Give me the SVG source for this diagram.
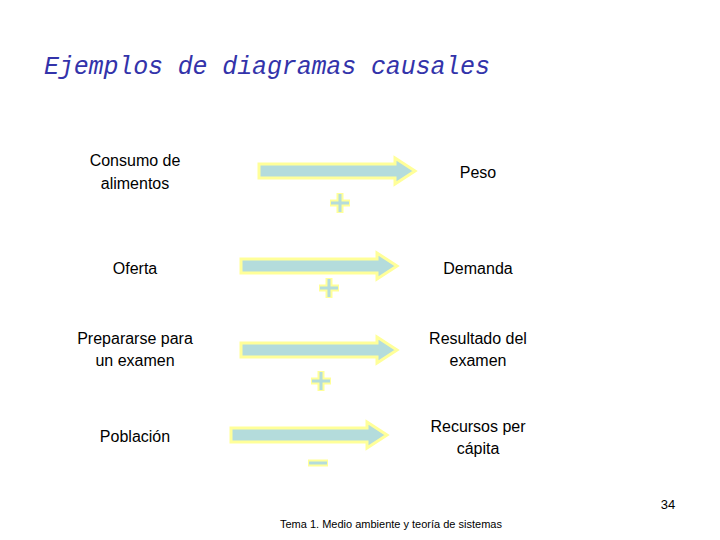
<svg xmlns="http://www.w3.org/2000/svg" width="720" height="540" viewBox="0 0 720 540">
<style>
.t{font-family:"Liberation Sans",Arial,sans-serif;font-size:16px;fill:#000;text-anchor:middle}
.ttl{font-family:"Liberation Mono","DejaVu Sans Mono",monospace;font-size:25px;fill:#3333aa;font-style:italic}
.ar{fill:#b4dcdc;stroke:#ffff99;stroke-width:3;stroke-linejoin:miter}
.sg{stroke:#ffff99;stroke-width:7;fill:none}
.sgi{stroke:#b4dcdc;stroke-width:3;fill:none}
.f{font-family:"Liberation Sans",Arial,sans-serif;font-size:11px;fill:#000}
</style>
<defs>
<path id="arr" class="ar" d="M0,-7 H136 V-13 L156,0 L136,13 V7 H0 Z"/>
<g id="plus"><path class="sg" d="M-10,0 H10 M0,-10 V10"/><path class="sgi" d="M-9,0 H9 M0,-9 V9"/></g>
</defs>
<rect width="720" height="540" fill="#fff"/>
<text class="ttl" x="44" y="74" textLength="446">Ejemplos de diagramas causales</text>
<g id="n1"><text class="t" x="135" y="166">Consumo de</text><text class="t" x="135" y="189">alimentos</text></g>
<g id="n2"><text class="t" x="478" y="178">Peso</text></g>
<g id="n3"><text class="t" x="135" y="274">Oferta</text></g>
<g id="n4"><text class="t" x="478" y="274">Demanda</text></g>
<g id="n5"><text class="t" x="135" y="344">Prepararse para</text><text class="t" x="135" y="366">un examen</text></g>
<g id="n6"><text class="t" x="478" y="344">Resultado del</text><text class="t" x="478" y="366">examen</text></g>
<g id="n7"><text class="t" x="135" y="442">Población</text></g>
<g id="n8"><text class="t" x="478" y="432">Recursos per</text><text class="t" x="478" y="454">cápita</text></g>
<g id="connectors">
<use href="#arr" x="259" y="171"/>
<use href="#arr" x="241" y="266"/>
<use href="#arr" x="241" y="350"/>
<use href="#arr" x="231" y="435"/>
<use href="#plus" x="340" y="203"/>
<use href="#plus" x="329" y="288"/>
<use href="#plus" x="321" y="381"/>
<path class="sg" d="M308,463 H328"/><path class="sgi" d="M309,463 H327"/>
</g>
<text class="t" x="668" y="509" style="font-size:13px">34</text>
<text class="f" x="280" y="528">Tema 1. Medio ambiente y teoría de sistemas</text>
</svg>
